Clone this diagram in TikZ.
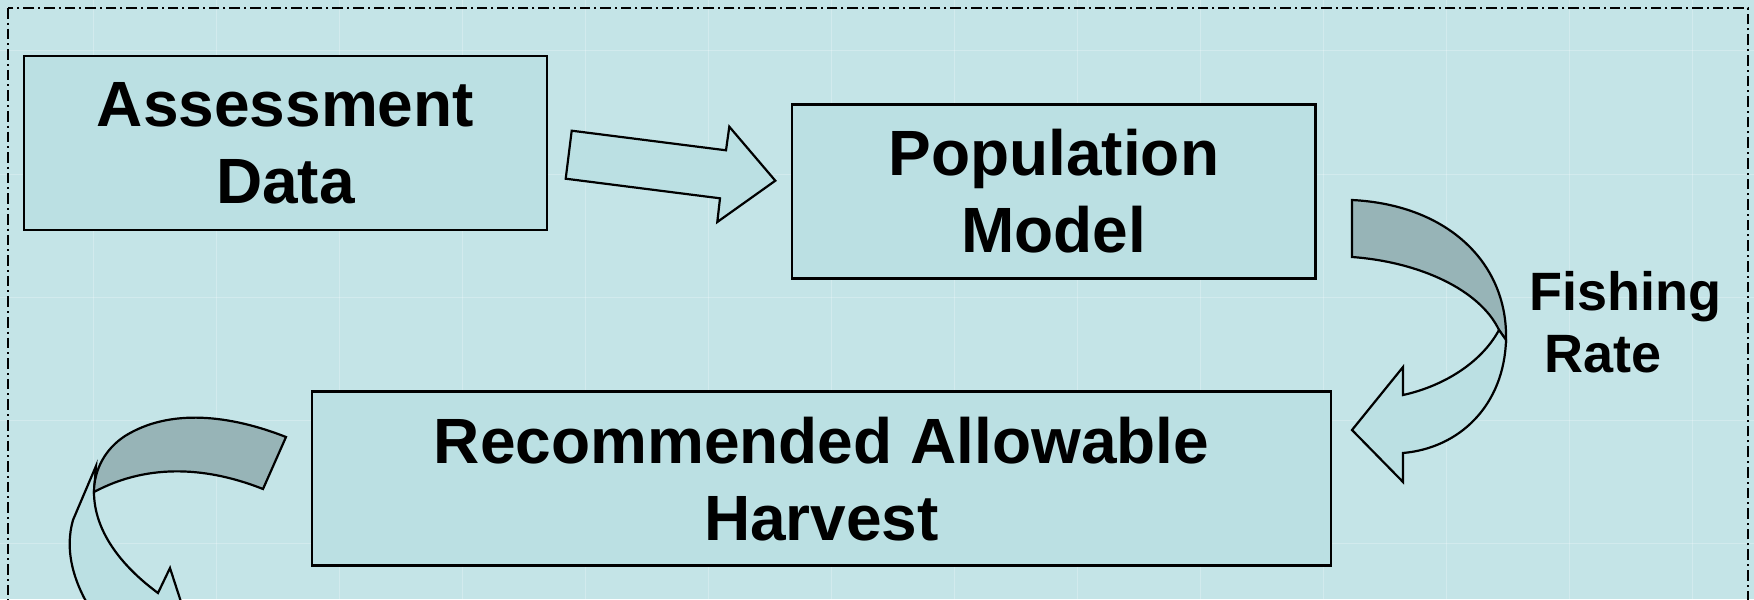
\documentclass[tikz,border=0pt]{standalone}
\usepackage{fontspec}
\setmainfont{Liberation Sans}
\definecolor{slidebg}{RGB}{196,228,231}
\definecolor{boxfill}{RGB}{187,224,227}
\definecolor{backside}{RGB}{151,180,183}

\begin{document}
\begin{tikzpicture}[x=0.5pt,y=-0.5pt,
    box/.style={draw,line width=1.3pt,fill=boxfill,align=center,inner sep=0pt,outer sep=0pt,
      minimum height=87pt,font=\fontsize{32}{38.5}\selectfont\bfseries},
    ribbon/.style={draw,line width=1.1pt,line join=miter,fill=boxfill},
    backribbon/.style={ribbon,fill=backside},
    gridline/.style={white,opacity=0.25,line width=0.5pt}]
\useasboundingbox (0,0) rectangle (1754,599);
\clip (0,0) rectangle (1754,599);
\fill[slidebg] (0,0) rectangle (1754,599);
\foreach \gx in {93,216,...,1692} \draw[gridline] (\gx,0) -- (\gx,599);
\foreach \gy in {51,174,...,543} \draw[gridline] (0,\gy) -- (1754,\gy);
\draw[line width=1.2pt,dash pattern=on 5.3pt off 2pt on 1pt off 2pt] (8,8) rectangle (1748,650);

\node[box,minimum width=261.5pt] (assess) at (285.5,143) {Assessment\\Data};
\node[box,minimum width=261.75pt] (model) at (1053.75,191.25) {Population\\Model};
\node[box,minimum width=509.5pt] (harvest) at (821.5,478.75) {Recommended Allowable\\Harvest};
\node[anchor=base west,inner sep=0pt,align=left,font=\fontsize{27}{31.35}\selectfont\bfseries]
  (rate) at (1529,372.7) {Fishing\\\hspace*{7.5pt}Rate};

\draw[ribbon] (571.7,130.7) -- (726,150.3) -- (729.3,126.7) -- (775.3,180.7)
  -- (717.3,222) -- (720,198.3) -- (565.7,178.7) -- cycle;

\draw[backribbon] (1352,200) .. controls (1450,205) and (1508,265) .. (1506,340)
  -- (1499,330) .. controls (1480,290) and (1420,262) .. (1352,257) -- cycle;
\draw[ribbon] (1499,330) -- (1506,340) .. controls (1504,405) and (1460,448) .. (1403,453)
  -- (1403,482) -- (1352,430) -- (1403,367) -- (1403,395)
  .. controls (1440,387) and (1480,365) .. (1499,330) -- cycle;

\draw[ribbon] (96,466) -- (73,520) .. controls (65,548) and (70,585) .. (105,630)
  -- (195,645) -- (170,568) -- (158,593) .. controls (120,565) and (94,530) .. (94,492) -- cycle;
\draw[backribbon] (286,437) .. controls (230,415) and (170,408) .. (125,436)
  .. controls (105,449) and (94,470) .. (94,492)
  .. controls (150,462) and (210,468) .. (263,489) -- cycle;
\end{tikzpicture}
\end{document}
